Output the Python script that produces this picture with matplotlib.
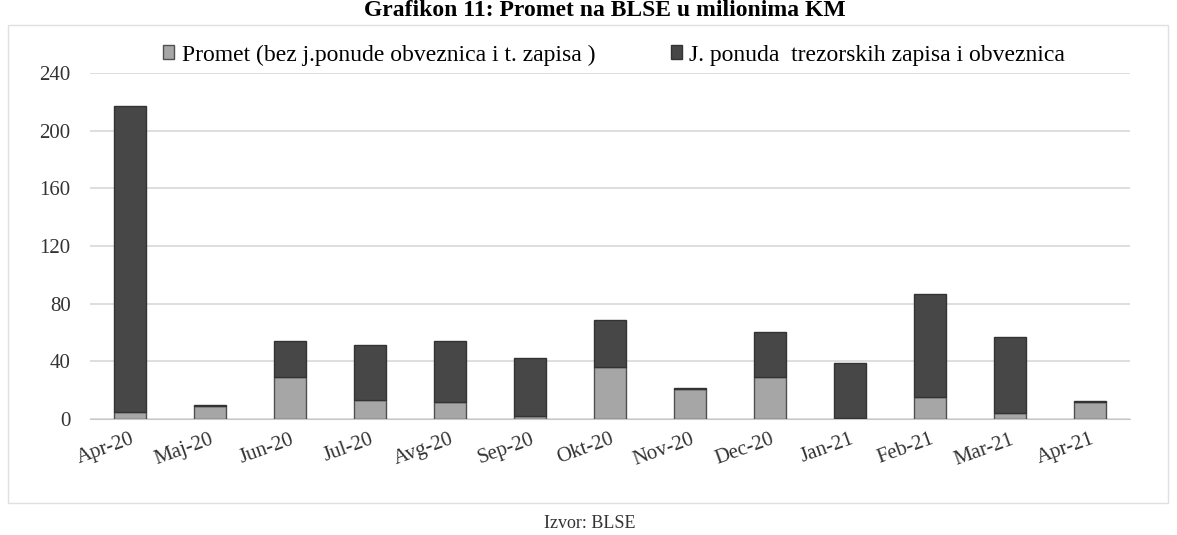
import matplotlib.pyplot as plt
from matplotlib.patches import Rectangle

months = ['Apr-20', 'Maj-20', 'Jun-20', 'Jul-20', 'Avg-20', 'Sep-20', 'Okt-20',
          'Nov-20', 'Dec-20', 'Jan-21', 'Feb-21', 'Mar-21', 'Apr-21']
promet = [5, 9, 29, 13, 12, 2, 36, 21, 29, 1, 15, 4, 12]
ponuda = [212, 1, 25, 38, 42, 40, 33, 0.5, 31, 38, 72, 53, 0.5]

plt.rcParams['font.family'] = ['Liberation Serif', 'DejaVu Serif']

fig = plt.figure(figsize=(11.77, 5.35), dpi=100)
ax = fig.add_axes([90 / 1177, 1 - 419 / 535, 1040 / 1177, 346 / 535])

x = range(len(months))
ax.bar(x, promet, width=0.4, color='#a6a6a6', edgecolor='#505050', linewidth=1,
       label='Promet (bez j.ponude obveznica i t. zapisa )', zorder=3)
ax.bar(x, ponuda, width=0.4, bottom=promet, color='#474747', edgecolor='#333333',
       linewidth=1, label='J. ponuda  trezorskih zapisa i obveznica', zorder=3)

ax.set_xlim(-0.5, 12.5)
ax.set_ylim(0, 240)
ax.set_yticks(range(0, 241, 40))
ax.set_xticks(list(x))
ax.set_xticklabels(months, rotation=20, ha='right', rotation_mode='anchor',
                   fontsize=15, color='#333333')
ax.tick_params(axis='y', labelsize=15, labelcolor='#333333', length=0, pad=14)
ax.tick_params(axis='x', length=0, pad=8)
ax.grid(axis='y', color='#d8d8d8', linewidth=1.2, zorder=0)
for s in ['top', 'right', 'left']:
    ax.spines[s].set_visible(False)
ax.spines['bottom'].set_color('#c8c8c8')

fig.legend(loc='center', bbox_to_anchor=(614 / 1177, 1 - 55 / 535), ncol=2,
           frameon=False, fontsize=17, handlelength=0.5, handleheight=0.5,
           handletextpad=0.3, columnspacing=3.2)

fig.text(605 / 1177, 1 - 11 / 535, 'Grafikon 11: Promet na BLSE u milionima KM',
         ha='center', va='center', fontsize=17, fontweight='bold')
fig.text(590 / 1177, 1 - 523 / 535, 'Izvor: BLSE', ha='center', va='center',
         fontsize=13, color='#333333')

fig.patches.append(Rectangle((8 / 1177, 1 - 503 / 535), 1160 / 1177, 478 / 535,
                             transform=fig.transFigure, fill=False,
                             edgecolor='#e0e0e0', linewidth=1))

plt.savefig('out.png')
